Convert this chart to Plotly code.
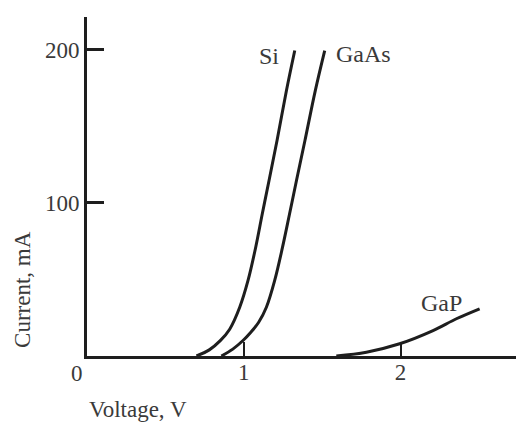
import plotly.graph_objects as go

# Data
si_v = [0.698, 0.780, 0.850, 0.910, 0.974, 1.027, 1.076, 1.118, 1.161, 1.212, 1.272, 1.325]
si_i = [0.0, 4.0, 10.0, 17.5, 31.8, 49.3, 71.0, 92.8, 114.5, 140.6, 173.2, 199.3]

gaas_v = [0.857, 0.930, 0.995, 1.045, 1.095, 1.144, 1.197, 1.247, 1.292, 1.336, 1.390, 1.456, 1.516]
gaas_i = [0.0, 4.5, 10.1, 15.5, 22.0, 31.8, 49.3, 71.0, 92.8, 114.5, 140.6, 173.2, 199.3]

gap_v = [1.59, 1.782, 1.994, 2.207, 2.356, 2.504]
gap_i = [0.0, 2.5, 8.0, 16.6, 24.3, 30.8]

series = [("Si", si_v, si_i), ("GaAs", gaas_v, gaas_i), ("GaP", gap_v, gap_i)]
label_pos = {"Si": (1.161, 196.0), "GaAs": (1.765, 196.8), "GaP": (2.259, 34.3)}

x_ticks = [1, 2]
y_ticks = [100, 200]
x_title = "Voltage, V"
y_title = "Current, mA"

FONT = "Liberation Serif"
TXT = "#3a3a3a"
LINE = "#1e1e1e"

fig = go.Figure()
for name, v, i in series:
    fig.add_trace(go.Scatter(x=v, y=i, mode="lines", name=name,
                             line=dict(color=LINE, width=3, shape="spline", smoothing=1.0),
                             showlegend=False, hoverinfo="skip"))

for name, (xv, yv) in label_pos.items():
    fig.add_annotation(x=xv, y=yv, text=name, showarrow=False,
                       font=dict(family=FONT, size=24, color=TXT))

# origin "0" label, shifted left of the corner
fig.add_annotation(x=0, y=0, text="0", showarrow=False, xshift=-10, yshift=-17,
                   font=dict(family=FONT, size=23, color=TXT))

fig.update_layout(
    width=516, height=422,
    margin=dict(l=87, r=0, t=17, b=66),
    paper_bgcolor="white", plot_bgcolor="white",
    showlegend=False,
    xaxis=dict(range=[0, 2.736], showgrid=False, zeroline=False,
               showline=True, linecolor=LINE, linewidth=3,
               tickvals=x_ticks, ticktext=[str(t) for t in x_ticks],
               ticks="inside", ticklen=14, tickwidth=1.5, tickcolor=LINE,
               ticklabelstandoff=-7,
               tickfont=dict(family=FONT, size=23, color=TXT)),
    yaxis=dict(range=[0, 221.2], showgrid=False, zeroline=False,
               showline=True, linecolor=LINE, linewidth=3,
               tickvals=y_ticks, ticktext=[str(t) for t in y_ticks],
               ticks="inside", ticklen=17, tickwidth=2.5, tickcolor=LINE,
               tickfont=dict(family=FONT, size=23, color=TXT)),
)

# axis titles placed as in the picture
fig.add_annotation(xref="paper", yref="paper", x=(138 - 87) / 429, y=(355.5 - 409) / 338.5,
                   xanchor="center", yanchor="middle",
                   text=x_title, showarrow=False,
                   font=dict(family=FONT, size=23, color=TXT))
fig.add_annotation(xref="paper", yref="paper", x=(22.5 - 87) / 429, y=(355.5 - 289) / 338.5,
                   xanchor="center", yanchor="middle",
                   text=y_title, showarrow=False, textangle=-90,
                   font=dict(family=FONT, size=23, color=TXT))

fig.write_html("out.html", config={"displayModeBar": False},
               post_script="document.body.style.margin='0';document.body.style.overflow='hidden';")
